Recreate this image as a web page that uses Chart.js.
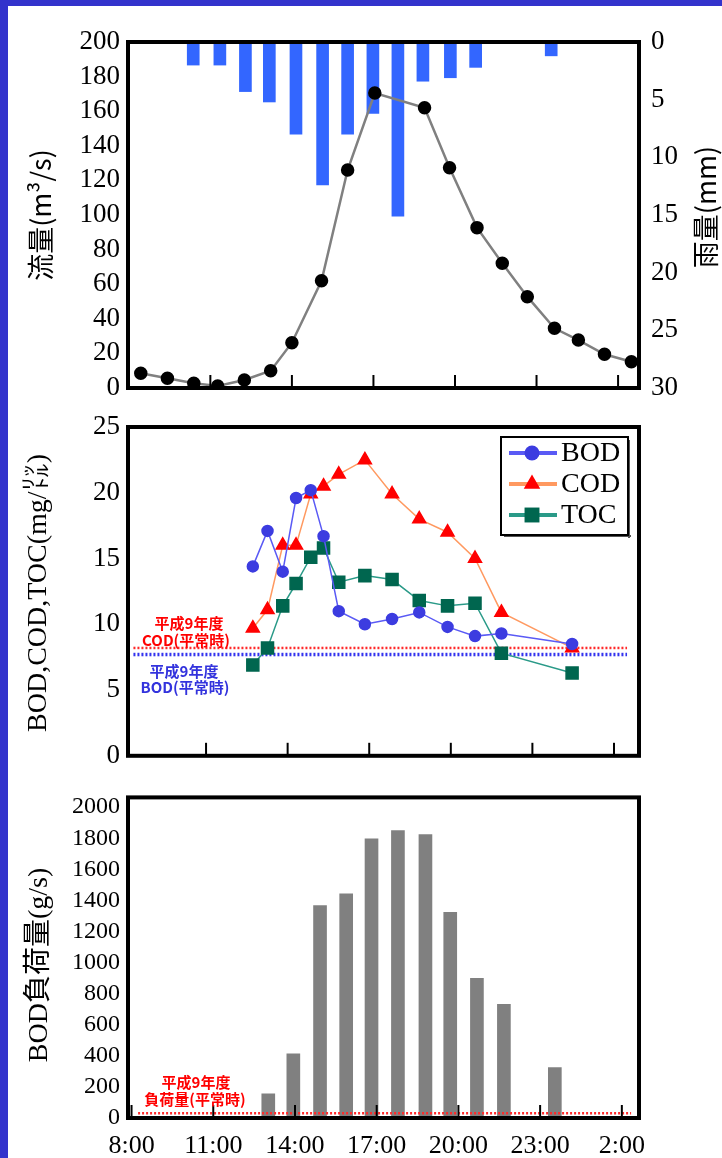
<!DOCTYPE html>
<html lang="ja">
<head>
<meta charset="utf-8">
<title>流量・水質・BOD負荷量</title>
<script src="https://cdn.jsdelivr.net/npm/chart.js@4"></script>
<style>
  html, body { margin: 0; padding: 0; background: #fff; }
  body { width: 722px; height: 1158px; position: relative; overflow: hidden; }
  .frame-top { position: absolute; left: 0; top: 0; width: 722px; height: 6px; background: #3333cc; }
  .frame-left { position: absolute; left: 0; top: 0; width: 8px; height: 1158px; background: #3333cc; }
  canvas { position: absolute; left: 0; }
  #flowChart { top: 0; }
  #qualityChart { top: 400px; }
  #loadChart { top: 775px; }
</style>
</head>
<body>
<div class="frame-top"></div>
<div class="frame-left"></div>
<canvas id="flowChart" width="722" height="420"></canvas>
<canvas id="qualityChart" width="722" height="380"></canvas>
<canvas id="loadChart" width="722" height="383"></canvas>
<script>
// time axis: hours from 0:00 of the first day (26 = 2:00 next day)
const timeTicks = [8, 11, 14, 17, 20, 23, 26];
const timeLabels = ['8:00', '11:00', '14:00', '17:00', '20:00', '23:00', '2:00'];

const flowTicks = [0, 20, 40, 60, 80, 100, 120, 140, 160, 180, 200];
const rainTicks = [0, 5, 10, 15, 20, 25, 30];
const qualityTicks = [0, 5, 10, 15, 20, 25];
const loadTicks = [0, 200, 400, 600, 800, 1000, 1200, 1400, 1600, 1800, 2000];

// flow (m3/s)
const flowTimes = [8.44, 9.42, 10.39, 11.27, 12.25, 13.22, 14.0, 15.09, 16.05, 17.05, 18.88, 19.80, 20.81, 21.74, 22.66, 23.66, 24.54, 25.50, 26.49];
const flowValues = [8.5, 5.6, 2.7, 1.2, 4.6, 10.0, 26.2, 62.0, 126.0, 170.5, 162.0, 127.3, 92.7, 72.1, 52.8, 34.5, 27.7, 19.5, 15.2];

// rainfall (mm)
const rainTimes = [10.37, 11.35, 12.29, 13.17, 14.15, 15.13, 16.05, 16.98, 17.90, 18.82, 19.83, 20.76, 23.54];
const rainValues = [2.0, 2.0, 4.3, 5.2, 8.0, 12.4, 8.0, 6.2, 15.1, 3.4, 3.1, 2.2, 1.2];

// water quality (mg/l)
const qualityTimes = [12.72, 13.26, 13.82, 14.31, 14.85, 15.32, 15.88, 16.84, 17.84, 18.84, 19.88, 20.89, 21.86, 24.46];
const bodValues = [14.4, 17.1, 14.0, 19.6, 20.2, 16.7, 11.0, 10.0, 10.4, 10.9, 9.8, 9.1, 9.3, 8.5];
const codValues = [9.7, 11.1, 16.0, 16.0, 19.9, 20.5, 21.4, 22.5, 19.9, 18.0, 17.0, 15.0, 10.9, 8.2];
const tocValues = [6.9, 8.2, 11.4, 13.1, 15.1, 15.8, 13.2, 13.7, 13.4, 11.8, 11.4, 11.6, 7.8, 6.3];

// H9 normal-time levels
const codNormal = 8.2;
const bodNormal = 7.7;
const normalSpan = [8.33, 26.48];

// BOD load (g/s)
const loadTimes = [13.02, 13.94, 14.92, 15.88, 16.81, 17.78, 18.79, 19.70, 20.68, 21.67, 23.54];
const loadValues = [156, 413, 1367, 1443, 1796, 1850, 1823, 1323, 899, 732, 325];
const loadNormal = 30;
const loadNormalSpan = [8.24, 26.34];

const serif = "'Liberation Serif', 'Noto Sans CJK JP', serif";
const gothic = "'Noto Sans CJK JP', sans-serif";

const pairs = (xs, ys) => xs.map((x, i) => ({ x: x, y: ys[i] }));
const fixWidth = w => scale => { scale.width = w; };
const fixHeight = h => scale => { scale.height = h; };
const useTicks = values => scale => { scale.ticks = values.map(v => ({ value: v })); };

// thick frame round the plot and short tick marks pointing inward
const boxPlugin = {
    id: 'box',
    afterDatasetsDraw(chart) {
        const { ctx, chartArea: a, scales } = chart;
        ctx.save();
        ctx.strokeStyle = '#000';
        ctx.lineWidth = 2;
        timeTicks.forEach(t => {
            const px = scales.x.getPixelForValue(t);
            if (px <= a.left + 3 || px >= a.right - 3) return;
            ctx.beginPath();
            ctx.moveTo(px, a.bottom);
            ctx.lineTo(px, a.bottom - 13);
            ctx.stroke();
        });
        ctx.lineWidth = 4;
        ctx.strokeRect(a.left, a.top, a.right - a.left, a.bottom - a.top);
        ctx.restore();
    }
};

// free text: rotated axis titles and the notes by the dotted lines
function notes(items) {
    return {
        id: 'notes',
        afterDraw(chart) {
            const ctx = chart.ctx;
            items.forEach(t => {
                ctx.save();
                ctx.translate(t.x, t.y);
                if (t.rotate) ctx.rotate(t.rotate);
                ctx.font = t.font;
                ctx.fillStyle = t.color || '#000';
                ctx.textAlign = 'center';
                ctx.textBaseline = 'middle';
                ctx.fillText(t.text, 0, 0);
                ctx.restore();
            });
        }
    };
}

function drawMarker(ctx, style, x, y, r, color) {
    ctx.fillStyle = color;
    ctx.beginPath();
    if (style === 'circle') {
        ctx.arc(x, y, r, 0, Math.PI * 2);
    } else if (style === 'triangle') {
        ctx.moveTo(x, y - r);
        ctx.lineTo(x + r * 0.87, y + r * 0.5);
        ctx.lineTo(x - r * 0.87, y + r * 0.5);
        ctx.closePath();
    } else {
        ctx.rect(x - r * 0.71, y - r * 0.71, r * 1.42, r * 1.42);
    }
    ctx.fill();
}

// boxed legend in the top right corner of the quality panel
const legendBox = {
    id: 'legendBox',
    afterDraw(chart) {
        const ctx = chart.ctx;
        const x0 = 501, y0 = 37, w = 127, h = 98;
        ctx.save();
        ctx.fillStyle = '#fff';
        ctx.fillRect(x0, y0, w, h);
        ctx.fillStyle = '#555';
        ctx.fillRect(x0 + 3, y0 + h, w, 2);
        ctx.fillRect(x0 + w, y0 + 3, 2, h);
        ctx.strokeStyle = '#000';
        ctx.lineWidth = 2;
        ctx.strokeRect(x0, y0, w, h);
        chart.data.datasets.slice(0, 3).forEach((ds, i) => {
            const y = 53 + i * 31;
            ctx.strokeStyle = ds.borderColor;
            ctx.lineWidth = 4;
            ctx.beginPath();
            ctx.moveTo(509, y);
            ctx.lineTo(557, y);
            ctx.stroke();
            drawMarker(ctx, ds.pointStyle, 532, y, ds.pointRadius + 2, ds.pointBackgroundColor);
            ctx.fillStyle = '#000';
            ctx.font = '28px ' + serif;
            ctx.textAlign = 'left';
            ctx.textBaseline = 'middle';
            ctx.fillText(ds.label, 561, y + 1);
        });
        ctx.restore();
    }
};

Chart.defaults.animation = false;
Chart.defaults.plugins.legend.display = false;
Chart.defaults.plugins.tooltip.enabled = false;
Chart.defaults.color = '#000';

const plainAxis = { grid: { display: false, drawTicks: false, offset: false }, border: { display: false } };
const plainTicks = (size, pad) => ({ font: { family: serif, size: size }, padding: pad, autoSkip: false, callback: v => String(v) });

// ---- flow and rainfall ----
new Chart(document.getElementById('flowChart'), {
    type: 'line',
    data: {
        datasets: [{
            label: '流量',
            data: pairs(flowTimes, flowValues),
            yAxisID: 'y',
            borderColor: '#808080',
            borderWidth: 2.5,
            pointRadius: 5.5,
            pointBackgroundColor: '#000',
            pointBorderColor: '#000',
            order: 0
        }, {
            type: 'bar',
            label: '雨量',
            data: pairs(rainTimes, rainValues),
            yAxisID: 'y2',
            backgroundColor: '#3366ff',
            barThickness: 12,
            order: 1
        }]
    },
    options: {
        responsive: false,
        layout: { padding: { top: 42, bottom: 32 } },
        scales: {
            x: { type: 'linear', display: false, offset: false, min: 7.97, max: 26.77 },
            y: {
                ...plainAxis, position: 'left', min: 0, max: 200,
                afterBuildTicks: useTicks(flowTicks), afterFit: fixWidth(128),
                ticks: plainTicks(27, 8)
            },
            y2: {
                ...plainAxis, position: 'right', reverse: true, min: 0, max: 30,
                afterBuildTicks: useTicks(rainTicks), afterFit: fixWidth(83),
                ticks: plainTicks(27, 12)
            }
        }
    },
    plugins: [boxPlugin, notes([
        { text: '流量(m³/s)', x: 41, y: 215, rotate: -Math.PI / 2, font: '27px ' + gothic },
        { text: '雨量(mm)', x: 706, y: 207, rotate: -Math.PI / 2, font: '27px ' + gothic }
    ])]
});

// ---- BOD, COD, TOC ----
new Chart(document.getElementById('qualityChart'), {
    type: 'line',
    data: {
        datasets: [{
            label: 'BOD',
            data: pairs(qualityTimes, bodValues),
            borderColor: '#5a5af5',
            borderWidth: 1.5,
            pointStyle: 'circle',
            pointRadius: 5.5,
            pointBackgroundColor: '#3c3ce0',
            pointBorderColor: '#3c3ce0',
            order: 0
        }, {
            label: 'COD',
            data: pairs(qualityTimes, codValues),
            borderColor: '#ff9960',
            borderWidth: 1.5,
            pointStyle: 'triangle',
            pointRadius: 7.5,
            pointBackgroundColor: '#ff0000',
            pointBorderColor: '#ff0000',
            order: 1
        }, {
            label: 'TOC',
            data: pairs(qualityTimes, tocValues),
            borderColor: '#2a9a88',
            borderWidth: 1.5,
            pointStyle: 'rect',
            pointRadius: 8.5,
            pointBackgroundColor: '#00664f',
            pointBorderColor: '#00664f',
            order: 2
        }, {
            label: 'COD(平常時)',
            data: normalSpan.map(x => ({ x: x, y: codNormal })),
            borderColor: '#ff2a2a',
            borderWidth: 2.5,
            borderDash: [2, 2],
            pointRadius: 0,
            order: 5
        }, {
            label: 'BOD(平常時)',
            data: normalSpan.map(x => ({ x: x, y: bodNormal })),
            borderColor: '#3333ee',
            borderWidth: 3.5,
            borderDash: [2, 2],
            pointRadius: 0,
            order: 6
        }]
    },
    options: {
        responsive: false,
        layout: { padding: { top: 27, bottom: 22, right: 83 } },
        scales: {
            x: { type: 'linear', display: false, offset: false, min: 8.13, max: 26.92 },
            y: {
                ...plainAxis, position: 'left', min: 0, max: 25,
                afterBuildTicks: useTicks(qualityTicks), afterFit: fixWidth(128),
                ticks: plainTicks(27, 8)
            }
        }
    },
    plugins: [boxPlugin, legendBox, notes([
        { text: 'BOD,COD,TOC(mg/㍑)', x: 39, y: 193, rotate: -Math.PI / 2, font: '28px ' + serif },
        { text: '平成9年度', x: 189, y: 223, font: 'bold 15px ' + gothic, color: '#ff0000' },
        { text: 'COD(平常時)', x: 186, y: 240, font: 'bold 15px ' + gothic, color: '#ff0000' },
        { text: '平成9年度', x: 184, y: 271, font: 'bold 15px ' + gothic, color: '#3333dd' },
        { text: 'BOD(平常時)', x: 185, y: 287, font: 'bold 15px ' + gothic, color: '#3333dd' }
    ])]
});

// ---- BOD load ----
new Chart(document.getElementById('loadChart'), {
    type: 'bar',
    data: {
        datasets: [{
            label: 'BOD負荷量',
            data: pairs(loadTimes, loadValues),
            backgroundColor: '#808080',
            barThickness: 13,
            order: 1
        }, {
            type: 'line',
            label: '負荷量(平常時)',
            data: loadNormalSpan.map(x => ({ x: x, y: loadNormal })),
            borderColor: '#ff2a2a',
            borderWidth: 2.5,
            borderDash: [2, 2],
            pointRadius: 0,
            order: 0
        }]
    },
    options: {
        responsive: false,
        layout: { padding: { top: 17, right: 83 } },
        scales: {
            x: {
                ...plainAxis, type: 'linear', offset: false, min: 7.87, max: 26.63,
                afterBuildTicks: useTicks(timeTicks), afterFit: fixHeight(40),
                ticks: {
                    font: { family: serif, size: 26 }, padding: 13, maxRotation: 0, autoSkip: false,
                    callback: v => timeLabels[timeTicks.indexOf(v)]
                }
            },
            y: {
                ...plainAxis, position: 'left', min: 0, max: 2063,
                afterBuildTicks: useTicks(loadTicks), afterFit: fixWidth(128),
                ticks: plainTicks(24, 8)
            }
        }
    },
    plugins: [boxPlugin, notes([
        { text: 'BOD負荷量(g/s)', x: 40, y: 190, rotate: -Math.PI / 2, font: '28px ' + serif },
        { text: '平成9年度', x: 196, y: 307, font: 'bold 15px ' + gothic, color: '#ff0000' },
        { text: '負荷量(平常時)', x: 195, y: 324, font: 'bold 15px ' + gothic, color: '#ff0000' }
    ])]
});
</script>
</body>
</html>
